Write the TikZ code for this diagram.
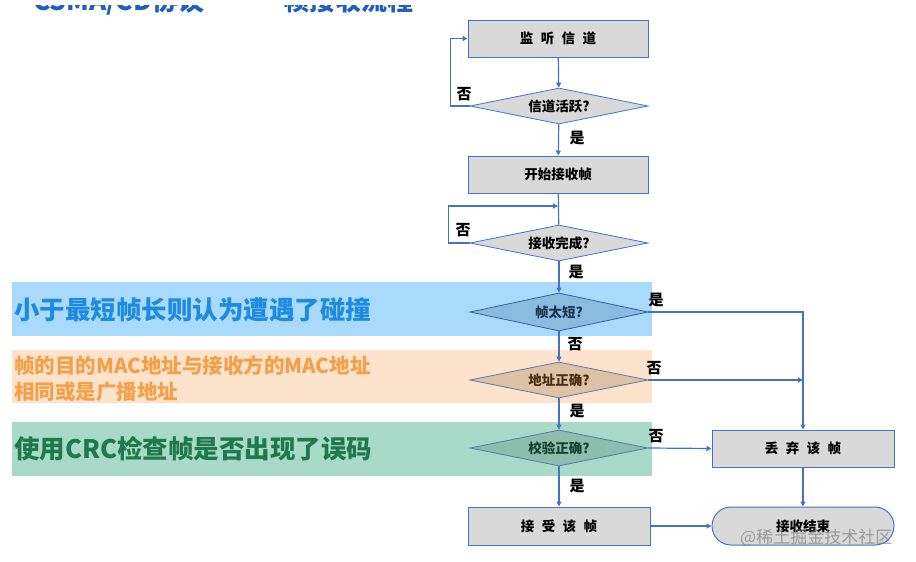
\documentclass[tikz,border=0pt]{standalone}
\usepackage{fontspec}
\setmainfont{Noto Sans CJK SC}
\usetikzlibrary{shapes.geometric,arrows.meta}
\definecolor{lineblue}{HTML}{4472C4}
\definecolor{boxgray}{HTML}{D9D9D9}
\definecolor{bandblue}{HTML}{A9D9FB}
\definecolor{dblue}{HTML}{8BBCE0}
\definecolor{tblue}{HTML}{1A3550}
\definecolor{bandorange}{HTML}{FDE3CB}
\definecolor{dorange}{HTML}{DEC2A5}
\definecolor{torange}{HTML}{4A2E12}
\definecolor{bandgreen}{HTML}{A9D9C9}
\definecolor{dgreen}{HTML}{8DBDAD}
\definecolor{tgreen}{HTML}{17402F}
\definecolor{txtblue}{HTML}{1E8BE0}
\definecolor{txtorange}{HTML}{F4A04A}
\definecolor{txtgreen}{HTML}{1E7A4E}
\definecolor{titleblue}{HTML}{1F5FC4}
\newcommand{\wsp}{\hspace{0.55em}}
\tikzset{
  procbox/.style={draw=lineblue, line width=1pt, fill=boxgray, minimum width=180pt, minimum height=37pt, inner sep=0pt, font=\fontsize{13.5}{15}\selectfont\bfseries},
  decision/.style={diamond, aspect=5, draw=lineblue, line width=0.8pt, fill=boxgray, minimum width=178pt, minimum height=36pt, inner sep=0pt, font=\fontsize{13.5}{15}\selectfont\bfseries},
  conn/.style={draw=lineblue, line width=1.2pt, -{Triangle[length=5pt,width=5pt]}},
  plain/.style={draw=lineblue, line width=1.2pt},
  yn/.style={font=\fontsize{15}{17}\selectfont\bfseries, text=black, inner sep=0pt},
  titletext/.style={anchor=base west, inner sep=0pt, text=titleblue, font=\fontsize{26}{28}\selectfont\bfseries}
}
\begin{document}
\begin{tikzpicture}[x=1pt,y=-1pt]
\useasboundingbox (0,0) rectangle (916,562);
% title (cut off at top)
\node[titletext] (title1) at (33,10.5) {CSMA/CD协议};
\node[titletext] (title2) at (283,10.5) {帧接收流程};
\fill[white] (0,-20) rectangle (450,4.5);
% bands
\fill[bandblue] (12,282) rectangle (652,336);
\fill[bandorange] (12,350) rectangle (652,403);
\fill[bandgreen] (12,422) rectangle (652,476);
\node[anchor=west, inner sep=0pt, text=txtblue, font=\fontsize{25.5}{28}\selectfont\bfseries] (t1) at (14,310) {小于最短帧长则认为遭遇了碰撞};
\node[anchor=west, inner sep=0pt, text=txtorange, font=\fontsize{20.5}{26}\selectfont\bfseries, align=left] (t2) at (14,379) {帧的目的MAC地址与接收方的MAC地址\\相同或是广播地址};
\node[anchor=west, inner sep=0pt, text=txtgreen, font=\fontsize{25.5}{28}\selectfont\bfseries] (t3) at (14,449) {使用CRC检查帧是否出现了误码};
% nodes
\node[procbox] (b1) at (558,38.5) {监\wsp 听\wsp 信\wsp 道};
\node[decision] (d1) at (559,106) {信道活跃?};
\node[procbox] (b2) at (558,174.5) {开始接收帧};
\node[decision] (d2) at (559,243) {接收完成?};
\node[decision, fill=dblue, draw=lineblue!80!black, text=tblue, minimum height=38pt] (d3) at (559,312) {帧太短?};
\node[decision, fill=dorange, draw=lineblue!60!gray, text=torange] (d4) at (559,380) {地址正确?};
\node[decision, fill=dgreen, draw=lineblue!60!gray, text=tgreen] (d5) at (559,448) {校验正确?};
\node[procbox, minimum width=182pt, minimum height=38pt] (b3) at (559,526) {接\wsp 受\wsp 该\wsp 帧};
\node[procbox, minimum width=182pt] (b4) at (803,448.5) {丢\wsp 弃\wsp 该\wsp 帧};
\node[procbox, minimum width=182pt, minimum height=38pt, rounded corners=19pt] (e) at (803,526) {接收结束};
\coordinate (j2) at (558,206);
\coordinate (j4) at (803,380);
% connectors
\draw[conn] (b1) -- (d1);
\draw[conn] (d1.west) -- ++(-19,0) |- (b1.west);
\draw[conn] (d1) -- (b2);
\draw[plain] (b2) -- (d2);
\draw[conn] (d2.west) -- ++(-21,0) |- (j2);
\draw[conn] (d2) -- (d3);
\draw[conn] (d3) -- (d4);
\draw[conn] (d4) -- (d5);
\draw[conn] (d5) -- (b3);
\draw[conn] (d3.east) -| (b4.north);
\draw[conn] (d4.east) -- (j4);
\draw[conn] (d5.east) -- (b4.west);
\draw[conn] (b3.east) -- (e.west);
\draw[conn] (b4.south) -- (e.north);
% labels
\node[yn] (l1) at (464,94) {否};
\node[yn] (l2) at (577,138) {是};
\node[yn] (l3) at (463,230) {否};
\node[yn] (l4) at (576,272) {是};
\node[yn] (l5) at (656,300) {是};
\node[yn] (l6) at (575,344) {否};
\node[yn] (l7) at (654,368) {否};
\node[yn] (l8) at (577,411) {是};
\node[yn] (l9) at (656,436) {否};
\node[yn] (l10) at (577,486) {是};
% watermark
\node[anchor=base west, inner sep=0pt, text=gray, opacity=0.7, font=\fontsize{17}{19}\selectfont] (wm) at (740,543) {@稀土掘金技术社区};
\end{tikzpicture}
\end{document}
